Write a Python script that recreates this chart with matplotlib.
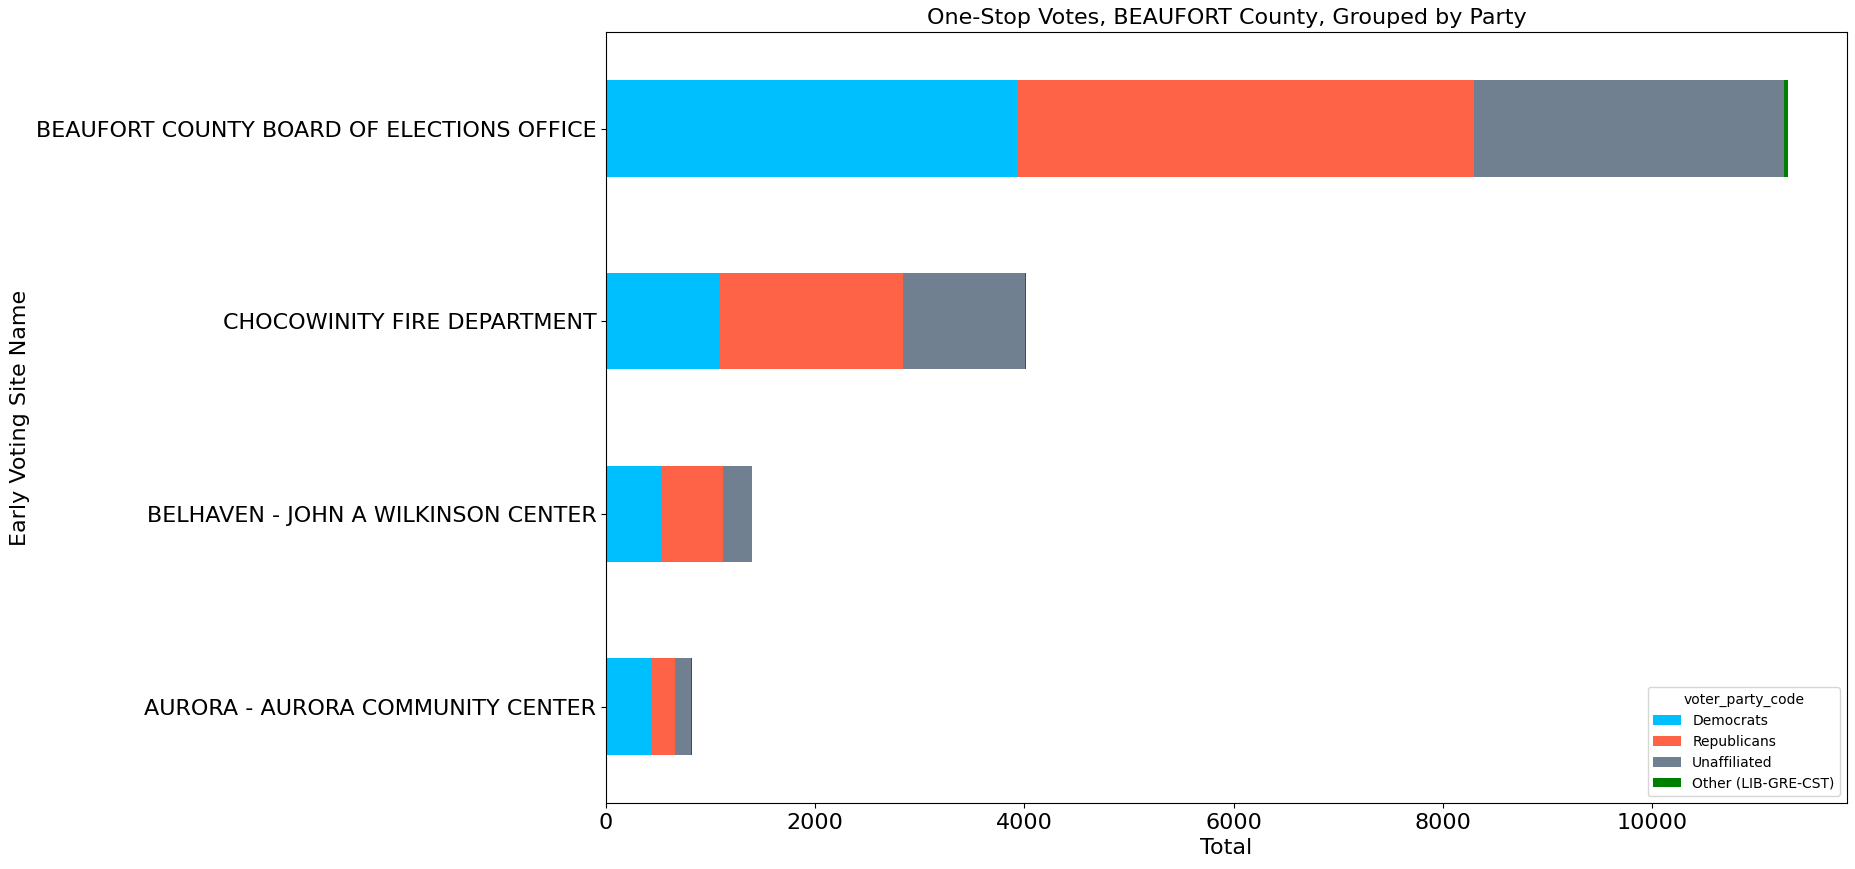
import pandas as pd
import matplotlib
matplotlib.use('Agg')
import matplotlib.pyplot as plt

sites = ['AURORA - AURORA COMMUNITY CENTER',
         'BELHAVEN - JOHN A WILKINSON CENTER',
         'CHOCOWINITY FIRE DEPARTMENT',
         'BEAUFORT COUNTY BOARD OF ELECTIONS OFFICE']
democrats = [428, 523, 1085, 3929]
republicans = [230, 594, 1755, 4368]
unaffiliated = [159, 277, 1168, 2963]
other = [8, 6, 10, 40]

party_colors = ['deepskyblue', 'tomato', 'slategray', 'green']


def plot_votes(county):
    data = pd.DataFrame({'Democrats': democrats,
                         'Republicans': republicans,
                         'Unaffiliated': unaffiliated,
                         'Other (LIB-GRE-CST)': other}, index=sites)
    data.index.name = 'Early Voting Site Name'
    data.columns.name = 'voter_party_code'

    fig = plt.figure(figsize=(18.55, 8.69), dpi=100)
    ax = fig.add_axes([0.3267, 0.076, 0.669, 0.887])
    data.plot.barh(stacked=True, color=party_colors, ax=ax, fontsize=16)
    ax.set_title(f'One-Stop Votes, {county} County, Grouped by Party', fontsize=16)
    ax.set_xlabel('Total', fontsize=16)
    ax.set_ylabel('Early Voting Site Name', fontsize=16)
    ax.legend(title='voter_party_code', loc='lower right')
    fig.savefig('out.png')


if __name__ == '__main__':
    plot_votes('BEAUFORT')
